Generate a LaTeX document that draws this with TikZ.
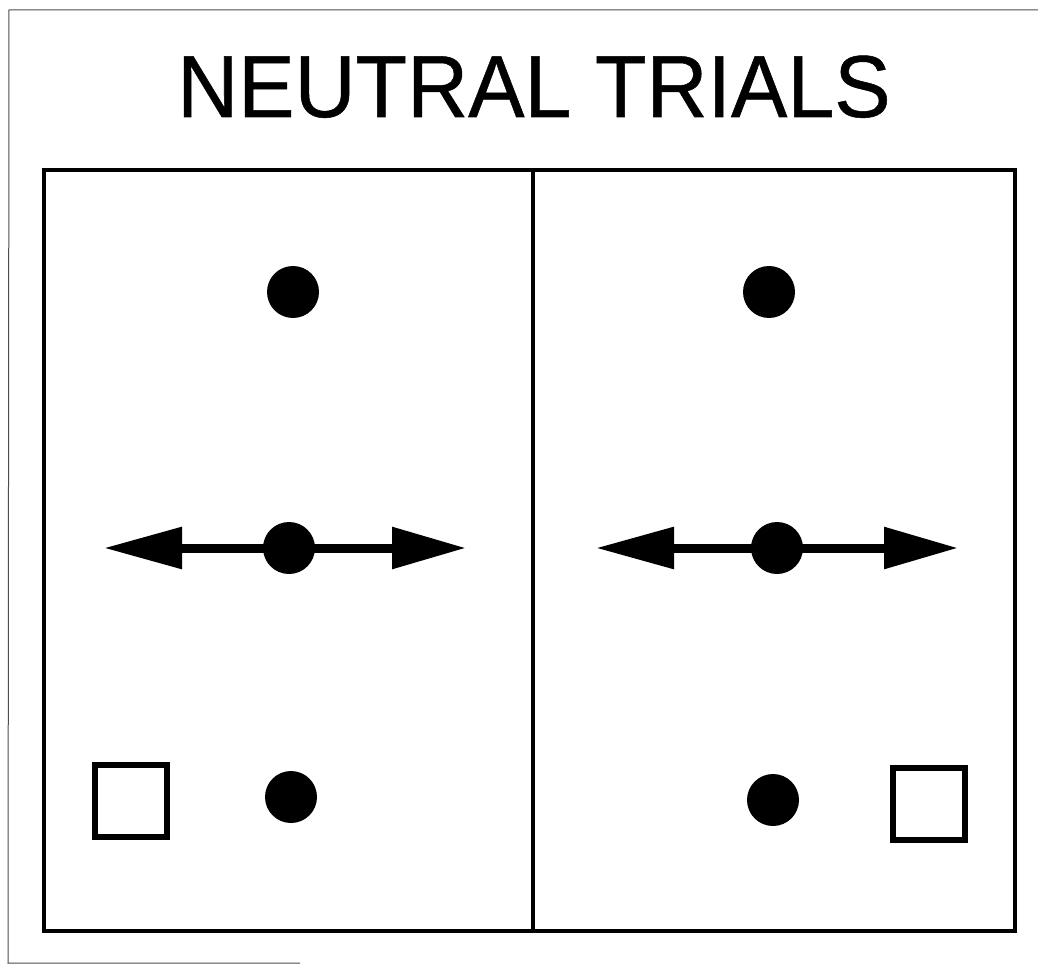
\documentclass[tikz,border=0pt]{standalone}
\usepackage{fontspec}
\setmainfont{Liberation Sans}
\newfontfamily\titlefont[FakeBold=0.6]{Liberation Sans}
\usetikzlibrary{arrows.meta}
\tikzset{
  dot/.style={circle,fill=black,inner sep=0pt,minimum size=52pt},
  sq/.style={draw=black,line width=5.5pt,fill=white,minimum size=72pt,inner sep=0pt},
  panel/.style={draw=black,line width=4.5pt},
  dbl/.style={line width=9pt,{Triangle[length=78pt,width=40pt]}-{Triangle[length=74pt,width=40pt]}}
}
\begin{document}
\begin{tikzpicture}[x=1pt,y=-1pt]
\useasboundingbox (0,0) rectangle (1038,965);
\draw[line width=1pt,black!70] (1045,10) -- (9,10) -- (8,963) -- (300,963);
% title
\node[anchor=base,inner sep=0pt,font=\titlefont\fontsize{88}{90}\selectfont,xscale=0.96] (title) at (534,117) {NEUTRAL TRIALS};
% panels
\draw[panel] (44,170) rectangle (1015,931);
\draw[panel] (533,170) -- (533,931);
% left panel
\node[dot] (l1) at (293,292) {};
\node[dot] (l2) at (289,548) {};
\node[dot] (l3) at (291,797) {};
\node[sq] (ls) at (131,801) {};
\coordinate (la) at (104,548);
\coordinate (lb) at (466,548);
\draw[dbl] (la) -- (lb);
% right panel
\node[dot] (r1) at (769,292) {};
\node[dot] (r2) at (777,548) {};
\node[dot] (r3) at (773,800) {};
\node[sq] (rs) at (929,804) {};
\coordinate (ra) at (596,548);
\coordinate (rb) at (958,548);
\draw[dbl] (ra) -- (rb);
\end{tikzpicture}
\end{document}
